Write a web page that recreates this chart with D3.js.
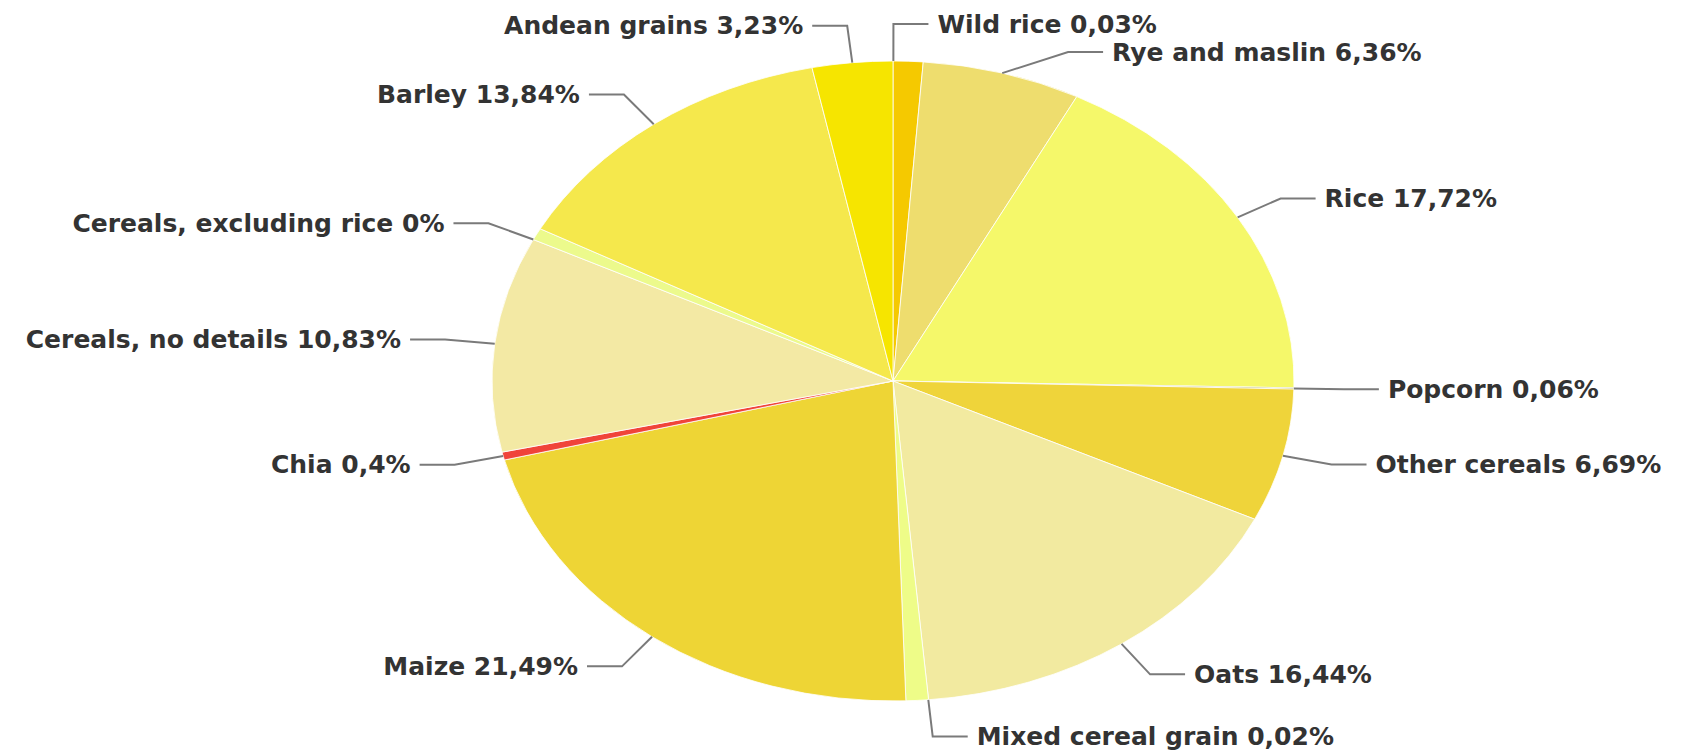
<!DOCTYPE html>
<html>
<head>
<meta charset="utf-8">
<script src="https://cdn.jsdelivr.net/npm/d3@7"></script>
<style>
  body { margin: 0; background: #fff; }
  text { font-family: "DejaVu Sans", sans-serif; font-weight: bold; }
</style>
</head>
<body>
<div id="pie"></div>
<script>
// Slice data, clockwise from 12 o'clock
const categories = ["Wild rice", "Rye and maslin", "Rice", "Popcorn", "Other cereals", "Oats",
  "Mixed cereal grain", "Maize", "Chia", "Cereals, no details", "Cereals, excluding rice",
  "Barley", "Andean grains"];
// drawn size of each slice (%) (tiny ones are drawn wider than their label)
const shares = [1.2, 6.36, 17.72, 0.06, 6.69, 16.44, 0.9, 21.49, 0.4, 10.83, 0.6, 13.84, 3.23];
// printed percentage next to each label
const labelPct = ["0,03%", "6,36%", "17,72%", "0,06%", "6,69%", "16,44%", "0,02%", "21,49%",
  "0,4%", "10,83%", "0%", "13,84%", "3,23%"];

const colors = ["#f5c900", "#eedd6e", "#f5f86a", "#8c8a2a", "#efd43a", "#f2eaa0", "#eefc88",
  "#eed535", "#f0443a", "#f3e9a4", "#ecfa8c", "#f5e84c", "#f6e500"];

const width = 1686;
const height = 752;
const cx = 893, cy = 381;     // pie centre
const rx = 401, ry = 320;     // the pie is an ellipse in the picture
const labelRx = 451, labelRy = 357;
const lineLen = 35, textGap = 9, labelH = 28;

const total = d3.sum(shares);

const data = categories.map((c, i) => ({
  name: c,
  share: shares[i],
  pct: labelPct[i],
  value: +labelPct[i].replace(",", ".").replace("%", ""),
  color: colors[i]
}));

const svg = d3.select("#pie")
  .append("svg")
  .attr("width", width)
  .attr("height", height);

const pie = d3.pie().sort(null).value(d => d.share);
const arcs = pie(data);

const arc = d3.arc().innerRadius(0).outerRadius(ry);

// slices (circle of radius ry stretched horizontally)
svg.append("g")
  .attr("transform", `translate(${cx},${cy}) scale(${rx / ry},1)`)
  .selectAll("path")
  .data(arcs)
  .enter()
  .append("path")
    .attr("d", arc)
    .attr("fill", d => d.data.color)
    .attr("stroke", "#fff")
    .attr("stroke-width", 0.8)
    .attr("vector-effect", "non-scaling-stroke");

// label anchors: centre of the part of the slice that the printed value covers
const labels = arcs.map(d => {
  const span = Math.min(d.data.value, d.data.share) / total * 2 * Math.PI;
  const a = d.startAngle + span / 2;
  return {
    d: d,
    a: a,
    side: Math.sin(a) >= 0 ? 1 : -1,
    y: cy - labelRy * Math.cos(a)
  };
});

// keep labels on each side from overlapping
[1, -1].forEach(side => {
  const group = labels.filter(l => l.side === side).sort((a, b) => a.y - b.y);
  for (let i = 1; i < group.length; i++) {
    if (group[i].y - group[i - 1].y < labelH) group[i].y = group[i - 1].y + labelH;
  }
});

labels.forEach(l => {
  const t = Math.max(-1, Math.min(1, (l.y - cy) / labelRy));
  l.cornerX = cx + l.side * Math.sqrt(1 - t * t) * labelRx;
  l.endX = l.cornerX + l.side * lineLen;
  l.edgeX = cx + rx * Math.sin(l.a);
  l.edgeY = cy - ry * Math.cos(l.a);
});

// connectors
svg.append("g")
  .selectAll("path")
  .data(labels)
  .enter()
  .append("path")
    .attr("d", l => `M${l.edgeX},${l.edgeY}L${l.cornerX},${l.y}L${l.endX},${l.y}`)
    .attr("fill", "none")
    .attr("stroke", "#7a7a7a")
    .attr("stroke-width", 2);

// label texts
svg.append("g")
  .selectAll("text")
  .data(labels)
  .enter()
  .append("text")
    .attr("x", l => l.endX + l.side * textGap)
    .attr("y", l => l.y)
    .attr("dy", "0.34em")
    .attr("text-anchor", l => l.side > 0 ? "start" : "end")
    .attr("font-size", "25px")
    .attr("fill", "#333")
    .text(l => l.d.data.name + " " + l.d.data.pct);
</script>
</body>
</html>
